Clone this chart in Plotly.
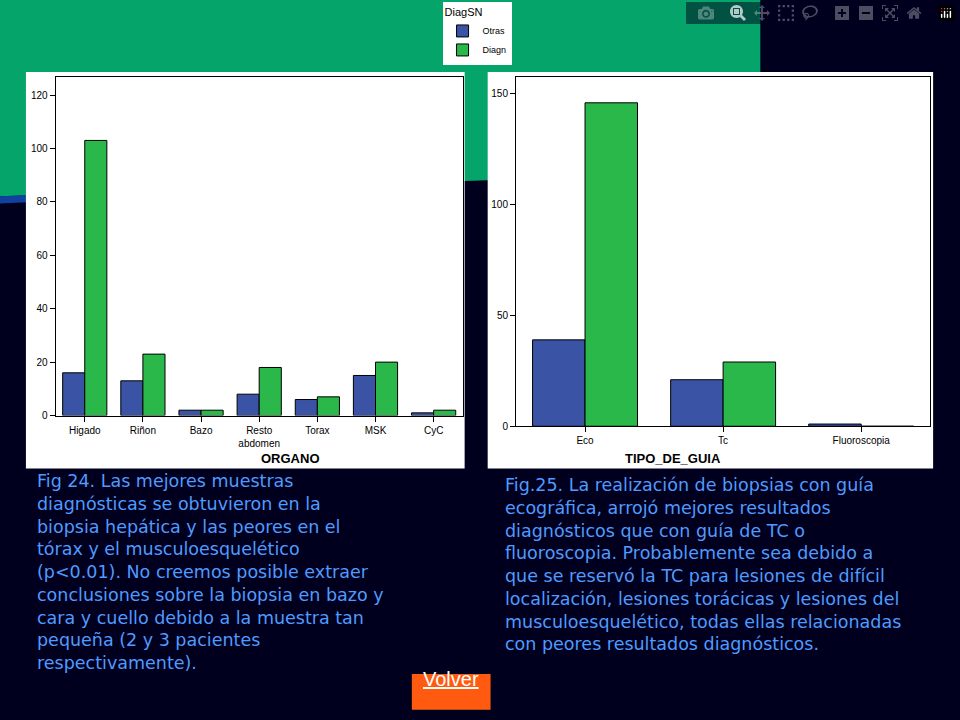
import plotly.graph_objects as go

organos = ["Higado", "Riñon", "Bazo", "Resto<br>abdomen", "Torax", "MSK", "CyC"]
org_otras = [16, 13, 2, 8, 6, 15, 1]
org_diagn = [103, 23, 2, 18, 7, 20, 2]

guias = ["Eco", "Tc", "Fluoroscopia"]
guia_otras = [39, 21, 1]
guia_diagn = [146, 29, 0]

BLUE = "#3a53a4"
GREEN = "#2ab84a"
CAP = "#4f9bff"

fig = go.Figure()
fig.add_trace(go.Bar(x=organos, y=org_otras, name="Otras", marker=dict(color=BLUE, line=dict(color="black", width=1)),
                     xaxis="x", yaxis="y", legendgroup="o"))
fig.add_trace(go.Bar(x=organos, y=org_diagn, name="Diagn", marker=dict(color=GREEN, line=dict(color="black", width=1)),
                     xaxis="x", yaxis="y", legendgroup="d"))
fig.add_trace(go.Bar(x=guias, y=guia_otras, name="Otras", marker=dict(color=BLUE, line=dict(color="black", width=1)),
                     xaxis="x2", yaxis="y2", legendgroup="o", showlegend=False))
fig.add_trace(go.Bar(x=guias, y=guia_diagn, name="Diagn", marker=dict(color=GREEN, line=dict(color="black", width=1)),
                     xaxis="x2", yaxis="y2", legendgroup="d", showlegend=False))

ax = dict(showline=True, linecolor="black", mirror=True, ticks="outside", ticklen=5, tickcolor="black",
          tickfont=dict(size=10, color="black"), showgrid=False, zeroline=False)
fig.update_layout(
    width=960, height=720, margin=dict(l=0, r=0, t=0, b=0),
    paper_bgcolor="#00001e", plot_bgcolor="#f5f5f5",
    font=dict(family="Liberation Sans, Arial", color="black"),
    barmode="group", bargap=0.24, bargroupgap=0,
    xaxis=dict(ax, domain=[0.058, 0.482], anchor="y"),
    yaxis=dict(ax, domain=[0.418, 0.892], anchor="x", range=[0, 126.7], dtick=20),
    xaxis2=dict(ax, domain=[0.5375, 0.969], anchor="y2"),
    yaxis2=dict(ax, domain=[0.403, 0.892], anchor="x2", range=[0, 157.6], dtick=50),
    legend=dict(title=dict(text="DiagSN", font=dict(size=11)), font=dict(size=9), bgcolor="white",
                x=0.461, y=0.997, xanchor="left", yanchor="top", itemwidth=30, tracegroupgap=0),
    shapes=[
        dict(type="path", xref="paper", yref="paper", layer="below",
             path="M 0 1 L 0.792 1 L 0.792 0.76 L 0 0.725 Z", fillcolor="#04a46a", line=dict(width=0)),
        dict(type="path", xref="paper", yref="paper", layer="below",
             path="M 0 0.725 L 0.28 0.738 L 0.28 0.732 L 0 0.715 Z", fillcolor="#1040a0", line=dict(width=0)),
        dict(type="rect", xref="paper", yref="paper", layer="below", x0=0.027, x1=0.484, y0=0.344, y1=0.899,
             fillcolor="white", line=dict(width=0)),
        dict(type="rect", xref="paper", yref="paper", layer="below", x0=0.508, x1=0.972, y0=0.344, y1=0.899,
             fillcolor="white", line=dict(width=0)),
        dict(type="rect", xref="paper", yref="paper", x0=0.429, x1=0.511, y0=0.006, y1=0.056,
             fillcolor="#ff5a10", line=dict(width=0)),
    ],
)

fig.add_annotation(text="<b>ORGANO</b>", xref="paper", yref="paper", x=0.27, y=0.358, showarrow=False,
                   font=dict(size=13, color="black"))
fig.add_annotation(text="<b>TIPO_DE_GUIA</b>", xref="paper", yref="paper", x=0.753, y=0.358, showarrow=False,
                   font=dict(size=13, color="black"))

cap1 = ("Fig 24. Las mejores muestras<br>diagnósticas se obtuvieron en la<br>biopsia hepática y las peores en el<br>"
        "tórax y el musculoesquelético<br>(p<0.01). No creemos posible extraer<br>conclusiones sobre la biopsia en bazo y<br>"
        "cara y cuello debido a la muestra tan<br>pequeña (2 y 3 pacientes<br>respectivamente).")
cap2 = ("Fig.25. La realización de biopsias con guía<br>ecográfica, arrojó mejores resultados<br>diagnósticos que con guía de TC o<br>"
        "fluoroscopia. Probablemente sea debido a<br>que se reservó la TC para lesiones de difícil<br>"
        "localización, lesiones torácicas y lesiones del<br>musculoesquelético, todas ellas relacionadas<br>"
        "con peores resultados diagnósticos.")
fig.add_annotation(text=cap1, xref="paper", yref="paper", x=0.036, y=0.343, xanchor="left", yanchor="top",
                   align="left", showarrow=False, font=dict(size=17.5, color=CAP, family="DejaVu Sans"))
fig.add_annotation(text=cap2, xref="paper", yref="paper", x=0.524, y=0.338, xanchor="left", yanchor="top",
                   align="left", showarrow=False, font=dict(size=17.5, color=CAP, family="DejaVu Sans"))
fig.add_annotation(text="<u>Volver</u>", xref="paper", yref="paper", x=0.47, y=0.031, showarrow=False,
                   font=dict(size=20, color="white", family="Liberation Sans, Arial"))

fig.write_html("out.html", post_script="document.body.style.margin='0';")
